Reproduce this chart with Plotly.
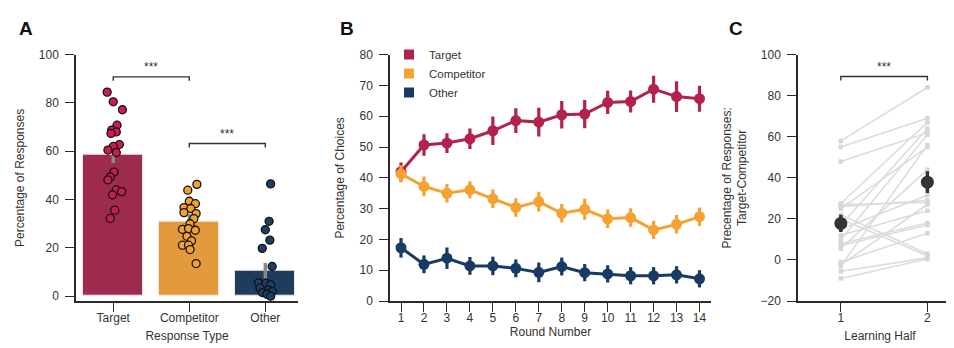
import plotly.graph_objects as go

# ---------------- data ----------------
categories = ["Target", "Competitor", "Other"]
bar_means = [58.5, 31.0, 10.5]
bar_sem = [3.3, 3.0, 3.3]

target_pts = [84.5, 80.5, 77.2, 70.8, 68.8, 68.0, 67.4, 62.8, 62.0, 60.5, 59.5,
              51.4, 49.4, 48.2, 44.0, 43.3, 42.0, 35.6, 32.2]
target_jit = [-0.08, 0.0, 0.12, 0.05, -0.02, 0.04, -0.03, 0.08, 0.0, -0.07, 0.04,
              0.01, -0.04, -0.07, 0.04, 0.11, -0.01, 0.02, -0.04]
comp_pts = [46.3, 43.9, 39.3, 38.3, 36.7, 36.3, 34.2, 34.6, 32.1, 30.0, 27.7,
            28.0, 27.3, 24.8, 22.9, 21.1, 21.1, 19.3, 13.5]
comp_jit = [0.10, -0.02, 0.0, 0.08, -0.07, 0.02, 0.09, -0.07, 0.06, 0.01, -0.09,
            -0.01, 0.08, -0.03, 0.03, -0.09, -0.01, 0.01, 0.09]
other_pts = [46.5, 31.0, 27.5, 23.2, 19.8, 12.3, 5.5, 5.4, 4.7, 3.4, 2.6, 1.9,
             1.5, 0.8, 0.0]
other_jit = [0.07, 0.05, 0.0, 0.06, -0.04, 0.09, -0.09, 0.01, 0.07, -0.07, 0.04,
             0.09, -0.04, 0.02, 0.07]

rounds = list(range(1, 15))
b_target = [42.0, 50.7, 51.3, 52.7, 55.3, 58.6, 58.1, 60.5, 60.7, 64.5, 64.8, 68.8, 66.4, 65.7]
b_target_err = [3.0, 3.5, 3.2, 3.3, 4.6, 4.0, 4.7, 4.5, 4.6, 3.8, 3.6, 4.4, 5.0, 4.2]
b_comp = [41.3, 37.2, 35.0, 36.1, 33.2, 30.4, 32.3, 28.5, 29.8, 26.7, 27.1, 23.1, 24.9, 27.4]
b_comp_err = [2.8, 3.2, 3.0, 2.8, 3.0, 3.0, 3.2, 3.0, 3.4, 3.0, 3.0, 3.0, 3.0, 3.0]
b_other = [17.3, 11.9, 13.9, 11.4, 11.4, 10.6, 9.3, 11.2, 9.2, 8.8, 8.2, 8.2, 8.5, 7.2]
b_other_err = [3.2, 2.9, 3.5, 2.9, 3.0, 2.9, 3.2, 2.9, 2.8, 2.8, 2.8, 2.8, 2.8, 2.8]

halves = [1, 2]
c_means = [17.8, 37.9]
c_sem = [4.2, 5.3]
c_half1 = [58.0, 55.0, 48.0, 27.5, 27.0, 26.0, 25.0, 22.0, 20.0, 17.0, 15.0,
           12.0, 10.0, 8.0, 7.0, 5.5, -1.0, -2.5, -3.0, -5.5, -9.0]
c_half2 = [84.0, 69.0, 62.0, 67.0, 28.0, 29.0, 55.0, 3.0, 2.0, 64.0, 31.5,
           24.0, 61.0, 18.0, 17.0, 44.0, 13.0, 27.0, 56.0, 1.0, 0.5]

sig_a = [(0, 1, 90.8, "***"), (1, 2, 63.2, "***")]
sig_c = [(1, 2, 89.4, "***")]

# ---------------- style ----------------
FONT = "Liberation Sans, Arial, Helvetica, sans-serif"
bar_colors = ["#9c2b4d", "#e39a3d", "#1d3c5e"]
dot_colors = ["#c81d4e", "#f3a22a", "#1e3e66"]
line_colors = ["#b2224a", "#f6a232", "#173b62"]
AX = "#2a2a2a"
TXT = "#333333"

fig = go.Figure()

# ---- Panel A ----
fig.add_trace(go.Bar(
    x=[0, 1, 2], y=bar_means, width=0.79,
    marker=dict(color=bar_colors, line=dict(color="#f0e6ea", width=1)),
    error_y=dict(type="data", array=bar_sem, color="#8a8a8a", thickness=3.5, width=0),
    xaxis="x", yaxis="y", showlegend=False, hoverinfo="skip"))

for i, (pts, jit) in enumerate([(target_pts, target_jit), (comp_pts, comp_jit), (other_pts, other_jit)]):
    fig.add_trace(go.Scatter(
        x=[i + j for j in jit], y=pts, mode="markers",
        marker=dict(size=8, color=dot_colors[i], line=dict(color="#111111", width=1.3)),
        xaxis="x", yaxis="y", showlegend=False, hoverinfo="skip"))

for (a, b, yv, txt) in sig_a:
    fig.add_trace(go.Scatter(
        x=[a, a, b, b], y=[yv - 1.6, yv, yv, yv - 1.6], mode="lines",
        line=dict(color="#333333", width=1.4), xaxis="x", yaxis="y",
        showlegend=False, hoverinfo="skip"))
    fig.add_annotation(x=(a + b) / 2, y=yv + 0.3, xref="x", yref="y", text=txt,
                       showarrow=False, yanchor="bottom",
                       font=dict(family=FONT, size=12, color="#333333"))

# ---- Panel B ----
for name, vals, errs, col in [("Target", b_target, b_target_err, line_colors[0]),
                              ("Competitor", b_comp, b_comp_err, line_colors[1]),
                              ("Other", b_other, b_other_err, line_colors[2])]:
    fig.add_trace(go.Scatter(
        x=rounds, y=vals, mode="lines+markers",
        line=dict(color=col, width=3),
        marker=dict(size=11, color=col),
        error_y=dict(type="data", array=errs, color=col, thickness=3.2, width=0),
        xaxis="x2", yaxis="y2", showlegend=False, hoverinfo="skip"))
    fig.add_trace(go.Scatter(
        x=[None], y=[None], mode="markers", name=name,
        marker=dict(symbol="square", size=10, color=col),
        xaxis="x2", yaxis="y2", showlegend=True))

# ---- Panel C ----
for v1, v2 in zip(c_half1, c_half2):
    fig.add_trace(go.Scatter(
        x=halves, y=[v1, v2], mode="lines+markers",
        line=dict(color="#dcdcdc", width=1.6),
        marker=dict(size=4.5, color="#d6d6d6", symbol="square"),
        xaxis="x3", yaxis="y3", showlegend=False, hoverinfo="skip"))

fig.add_trace(go.Scatter(
    x=halves, y=c_means, mode="markers",
    marker=dict(size=13, color="#333333"),
    error_y=dict(type="data", array=c_sem, color="#333333", thickness=3.5, width=0),
    xaxis="x3", yaxis="y3", showlegend=False, hoverinfo="skip"))

for (a, b, yv, txt) in sig_c:
    fig.add_trace(go.Scatter(
        x=[a, a, b, b], y=[yv - 2, yv, yv, yv - 2], mode="lines",
        line=dict(color="#333333", width=1.4), xaxis="x3", yaxis="y3",
        showlegend=False, hoverinfo="skip"))
    fig.add_annotation(x=(a + b) / 2, y=yv + 0.3, xref="x3", yref="y3", text=txt,
                       showarrow=False, yanchor="bottom",
                       font=dict(family=FONT, size=12, color="#333333"))

# ---- panel letters ----
for letter, px in [("A", 18), ("B", 339), ("C", 728)]:
    fig.add_annotation(x=px / 954, y=1 - 20 / 348, xref="paper", yref="paper",
                       text="<b>%s</b>" % letter, showarrow=False,
                       xanchor="center", yanchor="middle",
                       font=dict(family=FONT, size=19, color="#111111"))

common = dict(showgrid=False, zeroline=False, showline=True, linecolor=AX, linewidth=1.5,
              ticks="outside", tickcolor=AX, tickwidth=1.3, ticklen=9,
              tickfont=dict(family=FONT, size=12, color=TXT), automargin=False)
xcommon = dict(common, ticklabelstandoff=-4)
ycommon = dict(common, ticklabelstandoff=4)
ydom = [1 - 293 / 348, 1 - 46.7 / 348]
TF = dict(family=FONT, size=12, color=TXT)

fig.update_layout(
    width=954, height=348, template="none",
    margin=dict(l=0, r=0, t=0, b=0),
    paper_bgcolor="white", plot_bgcolor="white",
    font=dict(family=FONT, size=12, color=TXT),
    bargap=0,
    xaxis=dict(domain=[68 / 954, 290 / 954], range=[-0.49, 2.43], tickvals=[0, 1, 2],
               ticktext=categories, anchor="y",
               title=dict(text="Response Type", standoff=7, font=TF), **xcommon),
    yaxis=dict(domain=ydom, range=[-2, 100], tickvals=[0, 20, 40, 60, 80, 100], anchor="x",
               title=dict(text="Percentage of Responses", standoff=12, font=TF), **ycommon),
    xaxis2=dict(domain=[382 / 954, 703 / 954], range=[0.52, 14.5], tickvals=rounds, anchor="y2",
                title=dict(text="Round Number", standoff=0, font=TF), **xcommon),
    yaxis2=dict(domain=ydom, range=[0, 80], tickvals=list(range(0, 81, 10)), anchor="x2",
                title=dict(text="Percentage of Choices", standoff=12, font=TF), **ycommon),
    xaxis3=dict(domain=[790 / 954, 1.0], range=[0.505, 2.4], tickvals=halves, anchor="y3",
                title=dict(text="Learning Half", standoff=7, font=TF), **xcommon),
    yaxis3=dict(domain=ydom, range=[-20, 100], tickvals=list(range(-20, 101, 20)), anchor="x3",
                title=dict(text="Precentage of Responses:<br>Target-Competitor", standoff=11, font=TF),
                **ycommon),
    legend=dict(x=381 / 954, y=1 - 32 / 348, xanchor="left", yanchor="top",
                bgcolor="rgba(0,0,0,0)", font=dict(family=FONT, size=11.5, color=TXT),
                itemwidth=30, tracegroupgap=0),
)

fig.write_html("out.html")
